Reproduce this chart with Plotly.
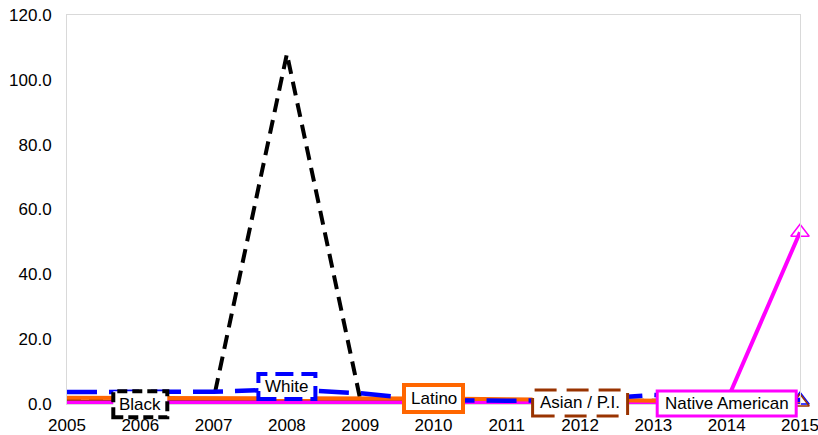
import plotly.graph_objects as go

years = [2005, 2006, 2007, 2008, 2009, 2010, 2011, 2012, 2013, 2014, 2015]

white = [3.7, 3.7, 3.8, 4.5, 3.3, 1.2, 1.0, 1.2, 2.8, 2.0, 1.2]
black = [1.5, 1.5, 1.5, 108.0, 1.5, 1.2, 1.2, 1.0, 1.0, 0.8, 0.5]
latino = [1.9, 1.9, 1.9, 1.9, 1.9, 1.7, 1.5, 1.3, 1.2, 1.0, 0.6]
asian = [0.9, 0.9, 0.9, 0.9, 0.9, 0.9, 0.9, 0.8, 0.8, 0.8, 0.6]
native = [0.4, 0.4, 0.4, 0.4, 0.4, 0.4, 0.4, 0.4, 0.5, 0.9, 53.0]

series_names = ["White", "Black", "Latino", "Asian / P.I.", "Native American"]
label_years = [2008, 2006, 2010, 2012, 2014]
y_ticks = [0, 20, 40, 60, 80, 100, 120]

FONT = "Liberation Sans, Arial, sans-serif"
W, H = 818, 435
M = dict(l=67, r=18, t=15, b=31)
YMIN, YMAX = 0, 120
PX_PER_UNIT = (H - M["t"] - M["b"]) / (YMAX - YMIN)

styles = {
    "White": dict(color="#0000FF", width=4.5, dash="30px,12px"),
    "Black": dict(color="#000000", width=4, dash="14px,8px"),
    "Latino": dict(color="#FF6600", width=4, dash="solid"),
    "Asian / P.I.": dict(color="#993300", width=3, dash="solid"),
    "Native American": dict(color="#FF00FF", width=4, dash="solid"),
}
data = {"White": white, "Black": black, "Latino": latino,
        "Asian / P.I.": asian, "Native American": native}

box = {
    "White": dict(w=57, h=25, dy=3, bw=4, dash="18px,8px"),
    "Black": dict(w=54, h=26, dy=-5, bw=4, dash="10px,5px"),
    "Latino": dict(w=59, h=27, dy=0, bw=4, dash="solid"),
    "Asian / P.I.": dict(w=95, h=26, dy=-1.5, bw=3, dash="22px,10px"),
    "Native American": dict(w=139, h=25, dy=-2.5, bw=3, dash="solid"),
}

fig = go.Figure()
order = ["Black", "Asian / P.I.", "Native American", "Latino", "White"]
for name in order:
    s = styles[name]
    fig.add_trace(go.Scatter(x=years, y=data[name], mode="lines", name=name,
                             line=dict(color=s["color"], width=s["width"], dash=s["dash"]),
                             showlegend=False))

for name in ["White", "Asian / P.I.", "Native American"]:
    fig.add_trace(go.Scatter(x=[years[-1]], y=[data[name][-1]], mode="markers",
                             marker=dict(symbol="triangle-up-open", size=16,
                                         color=styles[name]["color"],
                                         line=dict(width=1.5, color=styles[name]["color"])),
                             cliponaxis=False, showlegend=False))

shapes = []
annotations = []
for name, yr in zip(series_names, label_years):
    val = data[name][years.index(yr)]
    b = box[name]
    cy = (val - YMIN) * PX_PER_UNIT + b["dy"]
    shapes.append(dict(type="rect", xref="x", yref="paper", xsizemode="pixel", ysizemode="pixel",
                       xanchor=yr, yanchor=0,
                       x0=-b["w"] / 2, x1=b["w"] / 2,
                       y0=cy - b["h"] / 2, y1=cy + b["h"] / 2,
                       fillcolor="white",
                       line=dict(color=styles[name]["color"], width=b["bw"], dash=b["dash"]),
                       layer="above"))
    annotations.append(dict(x=yr, y=val, xref="x", yref="y", text=name, showarrow=False,
                            yshift=b["dy"], font=dict(family=FONT, size=17, color="black")))

fig.update_layout(
    width=W, height=H,
    margin=M,
    paper_bgcolor="white", plot_bgcolor="white",
    shapes=shapes, annotations=annotations,
    font=dict(family=FONT, size=17, color="black"),
    xaxis=dict(range=[2005, 2015], tickmode="array", tickvals=years,
               ticktext=[str(y) for y in years], showgrid=False, zeroline=False,
               showline=True, linecolor="#d9d9d9", linewidth=1, mirror=True,
               ticks="", ticklabelstandoff=6, automargin=False,
               ticklabeloverflow="allow"),
    yaxis=dict(range=[YMIN, YMAX], tickmode="array", tickvals=y_ticks,
               ticktext=[f"{v:.1f}" for v in y_ticks],
               showgrid=False, zeroline=False, showline=True, linecolor="#d9d9d9",
               linewidth=1, mirror=True, ticks="", ticklabelstandoff=11, automargin=False,
               ticklabeloverflow="allow"),
)

fig.write_html("out.html", config={"displayModeBar": False},
               post_script="document.body.style.margin='0';document.body.style.overflow='hidden';")
